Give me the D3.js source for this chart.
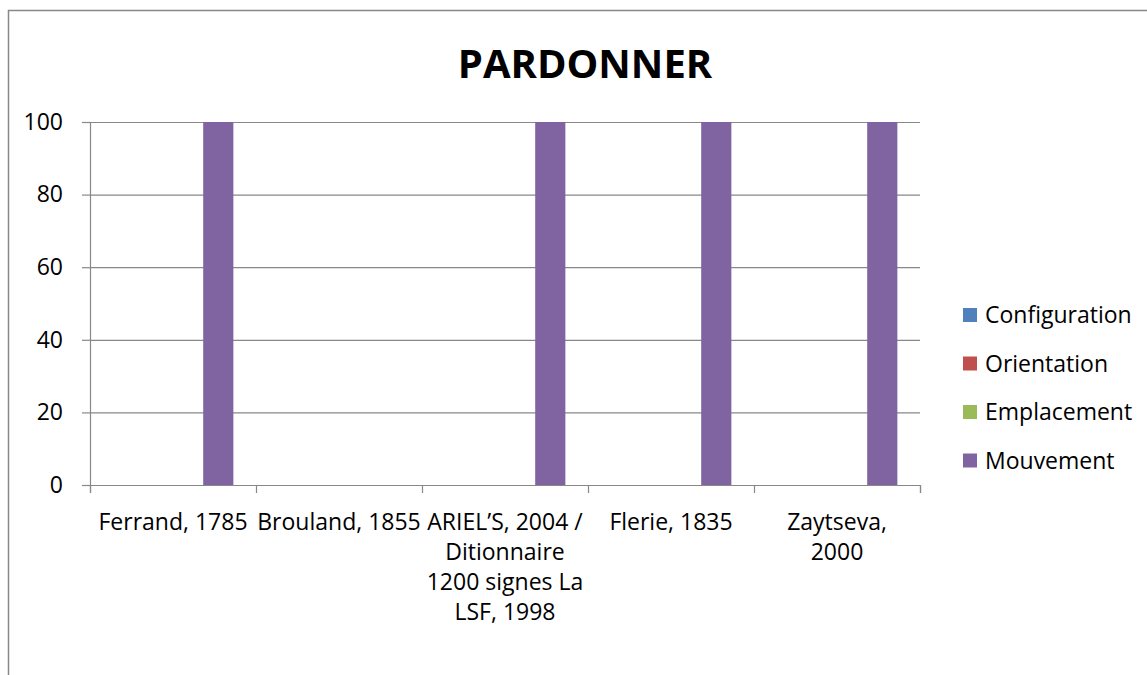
<!DOCTYPE html>
<html>
<head>
<meta charset="utf-8">
<script src="https://cdn.jsdelivr.net/npm/d3@7"></script>
<style>
  body { margin: 0; background: #fff; }
  text { font-family: "Open Sans", sans-serif; fill: #000; }
</style>
</head>
<body>
<div id="chart"></div>
<script>
// categories (line breaks as in the original labels)
var categories = ["Ferrand, 1785", "Brouland, 1855", "ARIEL\u2019S, 2004 /", "Flerie, 1835", "Zaytseva,"];
var categoryLines = [
  ["Ferrand, 1785"],
  ["Brouland, 1855"],
  ["ARIEL\u2019S, 2004 /", "Ditionnaire", "1200 signes La", "LSF, 1998"],
  ["Flerie, 1835"],
  ["Zaytseva,", "2000"]
];
var seriesNames = ["Configuration", "Orientation", "Emplacement", "Mouvement"];
var seriesColors = ["#4f81bd", "#c0504d", "#9bbb59", "#8064a2"];
var configuration = [0, 0, 0, 0, 0];
var orientation = [0, 0, 0, 0, 0];
var emplacement = [0, 0, 0, 0, 0];
var mouvement = [100, 0, 100, 100, 100];
var yTicks = [0, 20, 40, 60, 80, 100];

var values = [configuration, orientation, emplacement, mouvement];

var W = 1147, H = 675;
var margin = {top: 122, right: 227, bottom: 190, left: 90},
    width = W - margin.left - margin.right,
    height = H - margin.top - margin.bottom;

var svg = d3.select("#chart")
  .append("svg")
    .attr("width", W)
    .attr("height", H);

// outer chart border (only top and left visible in the picture)
svg.append("path")
  .attr("d", "M8.5," + H + "V10.5H" + W)
  .attr("fill", "none")
  .attr("stroke", "#888")
  .attr("stroke-width", 1.5);

var g = svg.append("g")
  .attr("transform", "translate(" + margin.left + "," + margin.top + ")");

var x = d3.scaleBand()
  .domain(d3.range(categories.length))
  .range([0, width])
  .paddingInner(0)
  .paddingOuter(0);

// 4 series, gap width 150%
var x1 = d3.scaleBand()
  .domain(d3.range(seriesNames.length))
  .range([0, x.bandwidth()])
  .paddingOuter(0.75)
  .paddingInner(0);

var y = d3.scaleLinear()
  .domain([0, 100])
  .range([height, 0]);

// gridlines
g.selectAll(".grid")
  .data(yTicks.filter(function(d) { return d > 0; }))
  .enter().append("line")
    .attr("x1", 0).attr("x2", width)
    .attr("y1", function(d) { return y(d) + 0.5; })
    .attr("y2", function(d) { return y(d) + 0.5; })
    .attr("stroke", "#888")
    .attr("stroke-width", 1.2);

// bars
values.forEach(function(vals, si) {
  g.selectAll(".bar" + si)
    .data(vals)
    .enter().append("rect")
      .attr("x", function(d, i) { return x(i) + x1(si); })
      .attr("width", x1.bandwidth())
      .attr("y", function(d) { return y(d); })
      .attr("height", function(d) { return height - y(d); })
      .attr("fill", seriesColors[si]);
});

// y axis
var yAxis = g.append("g")
  .call(d3.axisLeft(y).tickValues(yTicks).tickSize(8).tickPadding(19).tickFormat(d3.format("d")));
yAxis.select(".domain").attr("stroke", "#888").attr("stroke-width", 1.2);
yAxis.selectAll(".tick line").attr("stroke", "#888").attr("stroke-width", 1.2);
yAxis.selectAll(".tick text").style("font-size", "23px").style("font-family", "'Open Sans', sans-serif");

// x axis
var xEdge = d3.scaleLinear().domain([0, categories.length]).range([0, width]);
var xAxis = g.append("g")
  .attr("transform", "translate(0," + height + ")")
  .call(d3.axisBottom(xEdge).ticks(categories.length).tickSize(8).tickFormat(""));
xAxis.select(".domain").attr("stroke", "#888").attr("stroke-width", 1.2);
xAxis.selectAll(".tick line").attr("stroke", "#888").attr("stroke-width", 1.2);

// category labels
categoryLines.forEach(function(lines, i) {
  var t = g.append("text")
    .attr("text-anchor", "middle")
    .attr("transform", "translate(" + (x(i) + x.bandwidth() / 2) + "," + (height + 45) + ")")
    .style("font-size", "23px");
  lines.forEach(function(l, j) {
    t.append("tspan").attr("x", 0).attr("y", j * 30).text(l);
  });
});

// title
svg.append("text")
  .attr("x", 585)
  .attr("y", 78)
  .attr("text-anchor", "middle")
  .style("font-size", "40px")
  .style("font-weight", "bold")
  .text("PARDONNER");

// legend
var legend = svg.append("g").attr("transform", "translate(963,315)");
seriesNames.forEach(function(name, i) {
  legend.append("rect")
    .attr("x", 0).attr("y", i * 48.5 - 7)
    .attr("width", 14).attr("height", 14)
    .attr("fill", seriesColors[i]);
  legend.append("text")
    .attr("x", 22).attr("y", i * 48.5)
    .attr("dy", "0.35em")
    .style("font-size", "23px")
    .text(name);
});
</script>
</body>
</html>
